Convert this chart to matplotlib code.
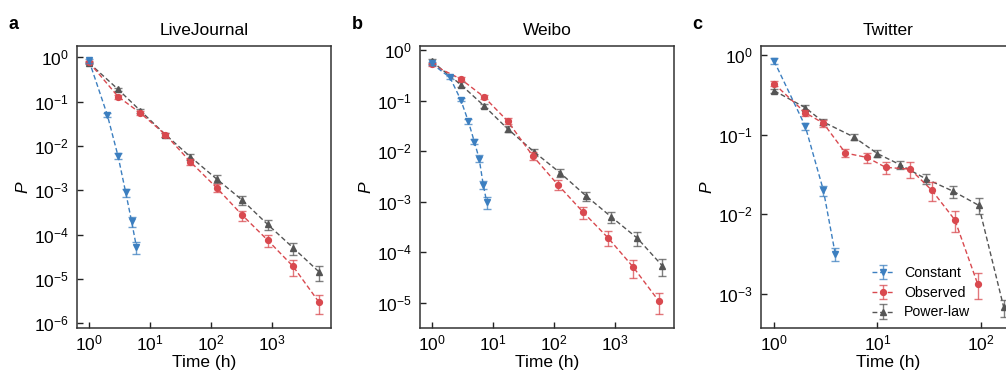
import numpy as np
import matplotlib
matplotlib.use('Agg')
import matplotlib.pyplot as plt
from matplotlib.ticker import LogLocator, NullLocator

plt.rcParams['font.family'] = ['Liberation Sans', 'DejaVu Sans']
plt.rcParams['mathtext.fontset'] = 'custom'
plt.rcParams['mathtext.rm'] = 'Liberation Sans'
plt.rcParams['mathtext.it'] = 'Liberation Sans:italic'

# ---- data ----
# LiveJournal
lj_const_t = [1, 2, 3, 4, 5, 6]
lj_const_p = [0.85, 0.05, 0.0059, 0.0009, 2.0e-4, 5.3e-5]
lj_const_e = [0.1, 0.1, 0.15, 0.2, 0.25, 0.3]
lj_obs_t = [1, 3, 7, 18, 46, 124, 326, 850, 2240, 5900]
lj_obs_p = [0.78, 0.13, 0.055, 0.018, 0.0044, 0.00114, 2.75e-4, 7.5e-5, 1.9e-5, 3.0e-6]
lj_obs_e = [0.06, 0.1, 0.1, 0.1, 0.15, 0.2, 0.25, 0.3, 0.38, 0.47]
lj_pow_t = [1, 3, 7, 18, 46, 124, 326, 850, 2240, 5900]
lj_pow_p = [0.75, 0.19, 0.062, 0.018, 0.0057, 0.0018, 6.0e-4, 1.7e-4, 5.0e-5, 1.45e-5]
lj_pow_e = [0.05, 0.08, 0.1, 0.1, 0.15, 0.2, 0.22, 0.25, 0.3, 0.37]

# Weibo
wb_const_t = [1, 2, 3, 4, 5, 6, 7, 8]
wb_const_p = [0.55, 0.29, 0.105, 0.039, 0.0156, 0.0072, 0.0022, 0.00098]
wb_const_e = [0.06, 0.06, 0.07, 0.1, 0.12, 0.15, 0.2, 0.25]
wb_obs_t = [1, 3, 7.2, 17.5, 45, 116, 300, 770, 2000, 5200]
wb_obs_p = [0.53, 0.27, 0.12, 0.040, 0.0082, 0.0022, 6.3e-4, 1.95e-4, 5.1e-5, 1.1e-5]
wb_obs_e = [0.08, 0.1, 0.1, 0.12, 0.18, 0.22, 0.28, 0.33, 0.4, 0.45]
wb_pow_t = [1, 3, 7.2, 17.5, 48, 129, 340, 880, 2340, 6000]
wb_pow_p = [0.61, 0.21, 0.080, 0.028, 0.0097, 0.0037, 0.0013, 5.0e-4, 1.9e-4, 5.4e-5]
wb_pow_e = [0.1, 0.1, 0.1, 0.12, 0.15, 0.18, 0.22, 0.25, 0.3, 0.38]

# Twitter
tw_const_t = [1, 2, 3, 3.9]
tw_const_p = [0.85, 0.129, 0.020, 0.0032]
tw_const_e = [0.08, 0.1, 0.15, 0.18]
tw_obs_t = [1, 2, 3, 4.9, 7.9, 12, 20.7, 33.6, 56, 93]
tw_obs_p = [0.44, 0.19, 0.14, 0.059, 0.052, 0.039, 0.037, 0.020, 0.0085, 0.00133]
tw_obs_e = [0.07, 0.08, 0.1, 0.12, 0.14, 0.17, 0.22, 0.27, 0.3, 0.36]
tw_pow_t = [1, 2, 3, 5.9, 10, 16.6, 29.3, 54, 95, 166]
tw_pow_p = [0.36, 0.22, 0.145, 0.094, 0.058, 0.042, 0.028, 0.0195, 0.013, 6.8e-4]
tw_pow_e = [0.06, 0.07, 0.08, 0.08, 0.1, 0.12, 0.15, 0.18, 0.22, 0.24]

titles = ['LiveJournal', 'Weibo', 'Twitter']
letters = ['a', 'b', 'c']

c_const = '#3c7fc0'
c_obs = '#d9494f'
c_pow = '#555555'

panels = [
    (lj_const_t, lj_const_p, lj_const_e, lj_obs_t, lj_obs_p, lj_obs_e, lj_pow_t, lj_pow_p, lj_pow_e),
    (wb_const_t, wb_const_p, wb_const_e, wb_obs_t, wb_obs_p, wb_obs_e, wb_pow_t, wb_pow_p, wb_pow_e),
    (tw_const_t, tw_const_p, tw_const_e, tw_obs_t, tw_obs_p, tw_obs_e, tw_pow_t, tw_pow_p, tw_pow_e),
]

# axes limits (log10) per panel
xlims = [(-0.197, 3.97), (-0.19, 3.97), (-0.126, 2.33)]
ylims = [(-6.11, 0.255), (-5.5, 0.085), (-3.43, 0.117)]
lefts = [0.0765, 0.4175, 0.7565]

fig = plt.figure(figsize=(10.06, 3.82), dpi=100)

def draw(ax, t, p, e, color, marker, label, z):
    t = np.array(t)
    p = np.array(p)
    err = p * np.array(e)
    eb = ax.errorbar(t, p, yerr=err, color=color, marker=marker, markersize=4.2,
                     linestyle='--', linewidth=1.0, dashes=(3.5, 2), capsize=3,
                     elinewidth=1.0, capthick=1.0, label=label, zorder=z)
    for c in eb[1]:
        c.set_alpha(0.75)
    for c in eb[2]:
        c.set_alpha(0.75)
    return eb

fs = 12.5
for i in range(3):
    ax = fig.add_axes([lefts[i], 0.1414, 0.2525, 0.738])
    ct, cp, ce, ot, op, oe, pt, pp, pe = panels[i]
    draw(ax, pt, pp, pe, c_pow, '^', 'Power-law', 3)
    draw(ax, ot, op, oe, c_obs, 'o', 'Observed', 4)
    draw(ax, ct, cp, ce, c_const, 'v', 'Constant', 5)
    ax.set_xscale('log')
    ax.set_yscale('log')
    ax.set_xlim(10 ** xlims[i][0], 10 ** xlims[i][1])
    ax.set_ylim(10 ** ylims[i][0], 10 ** ylims[i][1])
    ax.xaxis.set_major_locator(LogLocator(base=10, numticks=10))
    ax.yaxis.set_major_locator(LogLocator(base=10, numticks=10))
    ax.xaxis.set_minor_locator(NullLocator())
    ax.yaxis.set_minor_locator(NullLocator())
    ax.tick_params(direction='in', length=4, width=1, labelsize=fs, colors='#222222')
    ax.tick_params(axis='x', pad=4)
    ax.tick_params(axis='y', pad=6)
    ax.tick_params(labelcolor='black')
    for s in ax.spines.values():
        s.set_linewidth(1.1)
        s.set_color('#333333')
    ax.set_xlabel('Time (h)', fontsize=fs, labelpad=1)
    ax.set_ylabel('$P$', fontsize=fs, labelpad=2)
    ax.set_title(titles[i], fontsize=fs, pad=8)
    fig.text(lefts[i] - 0.068, 0.935, letters[i], fontsize=13, fontweight='bold',
             ha='left', va='center')
    if i == 2:
        h, l = ax.get_legend_handles_labels()
        ax.legend(h[::-1], l[::-1], loc='lower left', bbox_to_anchor=(0.387, -0.015),
                  frameon=False, fontsize=10.2, handlelength=1.55, handletextpad=0.7,
                  labelspacing=0.4)

fig.savefig('out.png', dpi=100)
